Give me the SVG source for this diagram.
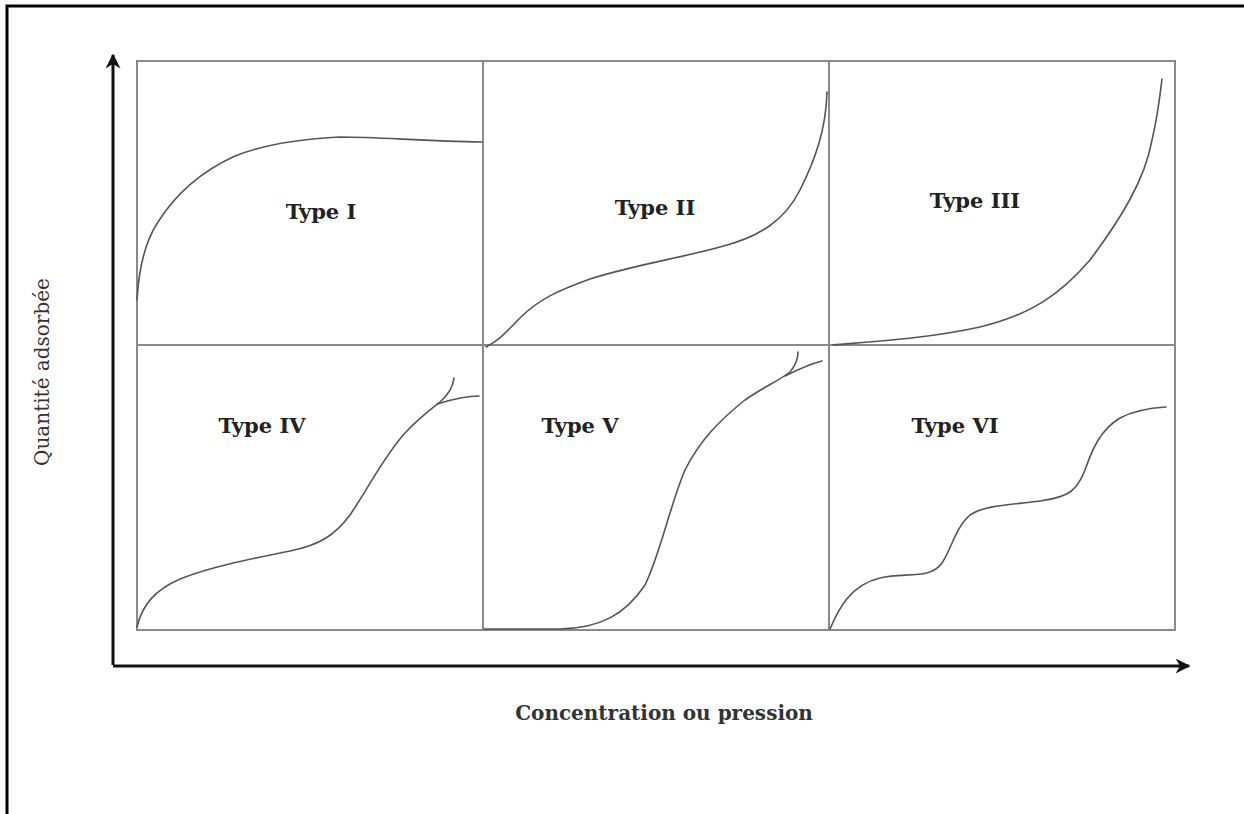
<svg xmlns="http://www.w3.org/2000/svg" width="1244" height="814" viewBox="0 0 1244 814">
<style>
.frame{fill:none;stroke:#000;stroke-width:3}
.grid{fill:none;stroke:#8a8a8a;stroke-width:2}
.curve{fill:none;stroke:#555;stroke-width:1.6;stroke-linecap:round}
.axis{fill:none;stroke:#111;stroke-width:3}
.lbl{font-family:"DejaVu Serif","Liberation Serif",serif;font-weight:bold;font-size:21px;fill:#222;text-anchor:middle}
.ax{font-family:"DejaVu Serif","Liberation Serif",serif;font-size:20px;fill:#333;text-anchor:middle}
</style>
<defs>
<marker id="arr" viewBox="0 0 10 10" refX="9" refY="5" markerWidth="5" markerHeight="5" orient="auto" markerUnits="strokeWidth">
<path d="M0,0 L10,5 L0,10 L3,5 Z" fill="#111"/>
</marker>
</defs>
<rect width="1244" height="814" fill="#fff"/>
<path class="frame" d="M7,814 V6 H1244"/>

<g id="grid">
<rect class="grid" x="137" y="61" width="1038" height="569"/>
<line class="grid" x1="483" y1="61" x2="483" y2="630"/>
<line class="grid" x1="829" y1="61" x2="829" y2="630"/>
<line class="grid" x1="137" y1="345" x2="1175" y2="345"/>
</g>

<g id="connectors">
<path class="axis" d="M113,665 V55" marker-end="url(#arr)"/>
<path class="axis" d="M113,666 H1189" marker-end="url(#arr)"/>
</g>

<g id="type1">
<path class="curve" d="M137,300 C139,265 146,240 158,222 C175,195 200,172 235,156 C265,144 300,139 340,137 C380,137 420,141 482,142"/>
<text class="lbl" x="321" y="219">Type I</text>
</g>
<g id="type2">
<path class="curve" d="M486,347 C500,340 508,330 520,318 C540,298 560,290 590,279 C630,266 680,258 720,247 C760,237 785,220 800,190 C815,160 826,130 827,92"/>
<text class="lbl" x="655" y="215">Type II</text>
</g>
<g id="type3">
<path class="curve" d="M833,345 C880,341 930,338 980,327 C1030,315 1060,295 1090,260 C1120,220 1145,180 1152,140 C1158,115 1160,95 1162,79"/>
<text class="lbl" x="975" y="208">Type III</text>
</g>
<g id="type4">
<path class="curve" d="M137,627 C142,605 155,590 180,579 C210,567 250,559 290,551 C320,545 335,535 350,515 C370,485 385,455 405,433 C420,417 430,410 440,402 C448,395 453,388 454,378"/>
<path class="curve" d="M437,404 C450,400 465,396 479,396"/>
<text class="lbl" x="262" y="433">Type IV</text>
</g>
<g id="type5">
<path class="curve" d="M484,629 L560,629 C600,628 625,615 645,585 C660,555 670,505 685,470 C700,440 720,420 745,400 C762,388 780,380 790,372 C795,366 798,358 798,352"/>
<path class="curve" d="M785,376 C797,370 810,364 822,361"/>
<text class="lbl" x="580" y="433">Type V</text>
</g>
<g id="type6">
<path class="curve" d="M830,629 C838,610 850,585 880,578 C905,572 930,580 942,563 C952,548 955,528 970,515 C985,505 1010,505 1040,501 C1070,497 1077,490 1085,470 C1092,450 1100,430 1120,418 C1135,410 1150,408 1166,407"/>
<text class="lbl" x="955" y="433">Type VI</text>
</g>

<g id="axis-labels">
<text class="ax" style="font-weight:bold;font-size:20px" x="664" y="720">Concentration ou pression</text>
<text class="ax" transform="translate(49,372) rotate(-90)" x="0" y="0">Quantité adsorbée</text>
</g>
</svg>
